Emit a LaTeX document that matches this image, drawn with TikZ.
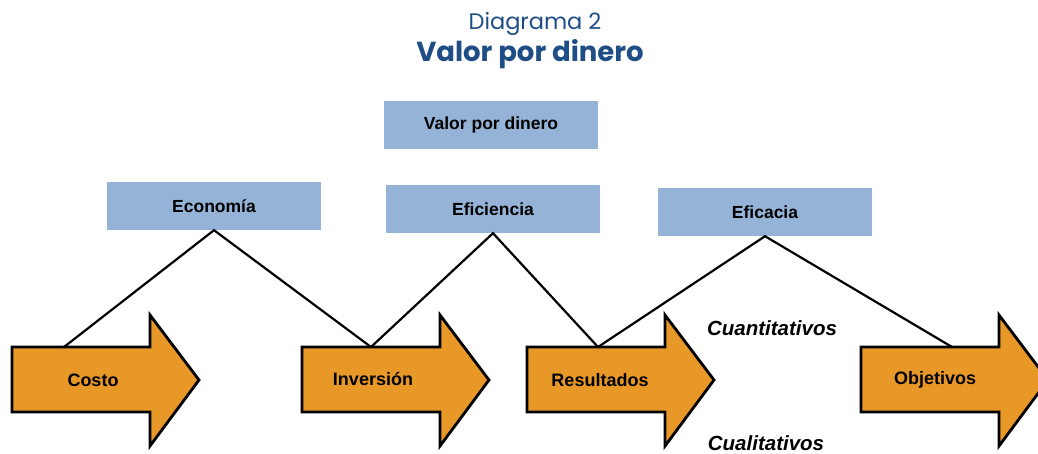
\documentclass[tikz,border=0pt]{standalone}
\usepackage{fontspec}
\setmainfont{Liberation Sans}
\newfontfamily\titlefont{Poppins}
\definecolor{boxblue}{HTML}{95B3D7}
\definecolor{arrorange}{HTML}{E89827}
\definecolor{titleblue}{HTML}{1F4E87}
\newcommand\bigarrow[1]{%
  \draw[arrstyle] (#1,347) -- ++(138,0) -- ++(0,-32) -- ++(49,65) -- ++(-49,66) -- ++(0,-34) -- ++(-138,0) -- cycle;}
\tikzset{
  arrstyle/.style={fill=arrorange, draw=black, line width=2.8pt, line join=miter},
  bluebox/.style={fill=boxblue, minimum width=214pt, minimum height=48pt, inner sep=0pt, font=\fontsize{17.5}{20}\selectfont\bfseries},
  arrlabel/.style={font=\fontsize{18}{20}\selectfont\bfseries, inner sep=0pt},
  sidelabel/.style={font=\fontsize{20.5}{24}\selectfont\bfseries\itshape, inner sep=0pt},
  link/.style={draw=black, line width=2.2pt}
}
\begin{document}
\begin{tikzpicture}[x=1pt,y=-1pt]
\clip (0,0) rectangle (1038,454);
\fill[white] (0,0) rectangle (1038,454);
% title
\node[font=\titlefont\fontsize{22.5}{26}\selectfont, text=titleblue, inner sep=0pt] (t1) at (535,24) {Diagrama 2};
\node[font=\titlefont\fontsize{27.5}{30}\selectfont\bfseries, text=titleblue, inner sep=0pt] (t2) at (530,54) {Valor por dinero};
% boxes
\node[bluebox] (vpd) at (491,125) {Valor por dinero};
\node[bluebox] (econ) at (214,206) {Economía};
\node[bluebox] (efic) at (493,209) {Eficiencia};
\node[bluebox] (efca) at (765,212) {Eficacia};
% arrows
\bigarrow{12}
\bigarrow{302}
\bigarrow{527}
\bigarrow{861}
\node[arrlabel] (costo) at (93,380) {Costo};
\node[arrlabel] (inv) at (373,379) {Inversión};
\node[arrlabel] (res) at (600,380) {Resultados};
\node[arrlabel] (obj) at (935,380) {Objetivos};
\coordinate (costotop) at (64,347);
\coordinate (invtop) at (371,347);
\coordinate (restop) at (598,347);
\coordinate (objtop) at (952,347);
% links
\draw[link] (costotop) -- (econ.south) -- (invtop);
\draw[link] (invtop) -- (efic.south) -- (restop);
\draw[link] (restop) -- (efca.south) -- (objtop);
% side labels
\node[sidelabel] (cuan) at (772,328) {Cuantitativos};
\node[sidelabel] (cual) at (766,443) {Cualitativos};
\end{tikzpicture}
\end{document}
